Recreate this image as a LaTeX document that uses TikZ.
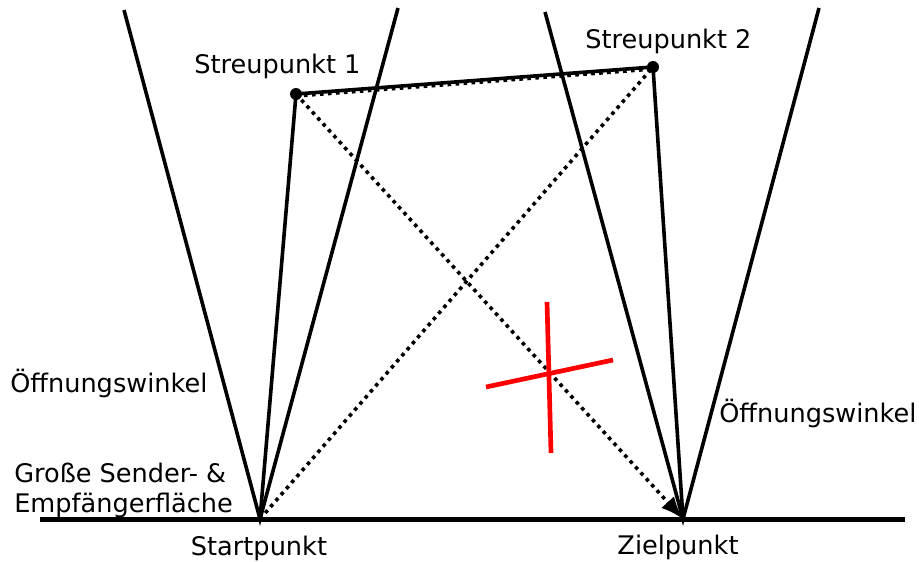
\documentclass[tikz,border=0pt]{standalone}
\usepackage{fontspec}
\setmainfont{DejaVu Sans}
\usetikzlibrary{arrows.meta}
\begin{document}
\begin{tikzpicture}[x=0.75pt,y=-0.75pt,
  solidline/.style={line width=2.7pt,black},
  groundline/.style={line width=3.9pt,black},
  dotline/.style={line width=2.7pt,black,dash pattern=on 2.7pt off 3.3pt},
  redline/.style={line width=3.5pt,red},
  lbl/.style={inner sep=0pt,font=\fontsize{19.2pt}{23pt}\selectfont},
  pt/.style={circle,fill=black,inner sep=0pt,minimum size=9pt}]
\useasboundingbox (0,0) rectangle (919,561);
% key points
\coordinate (S) at (260,519);
\coordinate (Z) at (683,519);
\node[pt] (P1) at (296,94) {};
\node[pt] (P2) at (653,67) {};
\coordinate (SL) at (124,10);
\coordinate (SR) at (398,8);
\coordinate (ZL) at (545,12);
\coordinate (ZR) at (819,8);
\coordinate (G1) at (40,519.5);
\coordinate (G2) at (905,519.5);
% ground
\draw[groundline] (G1) -- (G2);
% cones
\draw[solidline] (SL) -- (S) -- (SR);
\draw[solidline] (ZL) -- (Z) -- (ZR);
% solid paths
\draw[solidline] (S) -- (P1.center);
\draw[solidline] (P1.center) -- (P2.center);
\draw[solidline] (P2.center) -- (Z);
% dotted paths
\draw[dotline] ([yshift=-1.5pt]P1.center) -- ([yshift=-1.5pt]P2.center);
\draw[dotline] (S) -- (P2.center);
\draw[dotline,-{Latex[length=17pt,width=13pt]}] (P1.center) -- (Z);
% red cross
\coordinate (R1) at (547,302);
\coordinate (R2) at (551,453);
\coordinate (R3) at (486,387);
\coordinate (R4) at (613,360);
\draw[redline] (R1) -- (R2);
\draw[redline] (R3) -- (R4);
% labels
\node[lbl,anchor=base west] (t1) at (194,73) {Streupunkt 1};
\node[lbl,anchor=base west] (t2) at (585,48) {Streupunkt 2};
\node[lbl,anchor=base west] (o1) at (10,392) {Öffnungswinkel};
\node[lbl,anchor=base west] (o2) at (719,422) {Öffnungswinkel};
\node[lbl,anchor=base west] (g1) at (14,482) {Große Sender- \&};
\node[lbl,anchor=base west] (g2) at (14,512) {Empfängerfläche};
\node[lbl,anchor=base] (st) at (259,555) {Startpunkt};
\node[lbl,anchor=base] (zi) at (678,554) {Zielpunkt};
\end{tikzpicture}
\end{document}
